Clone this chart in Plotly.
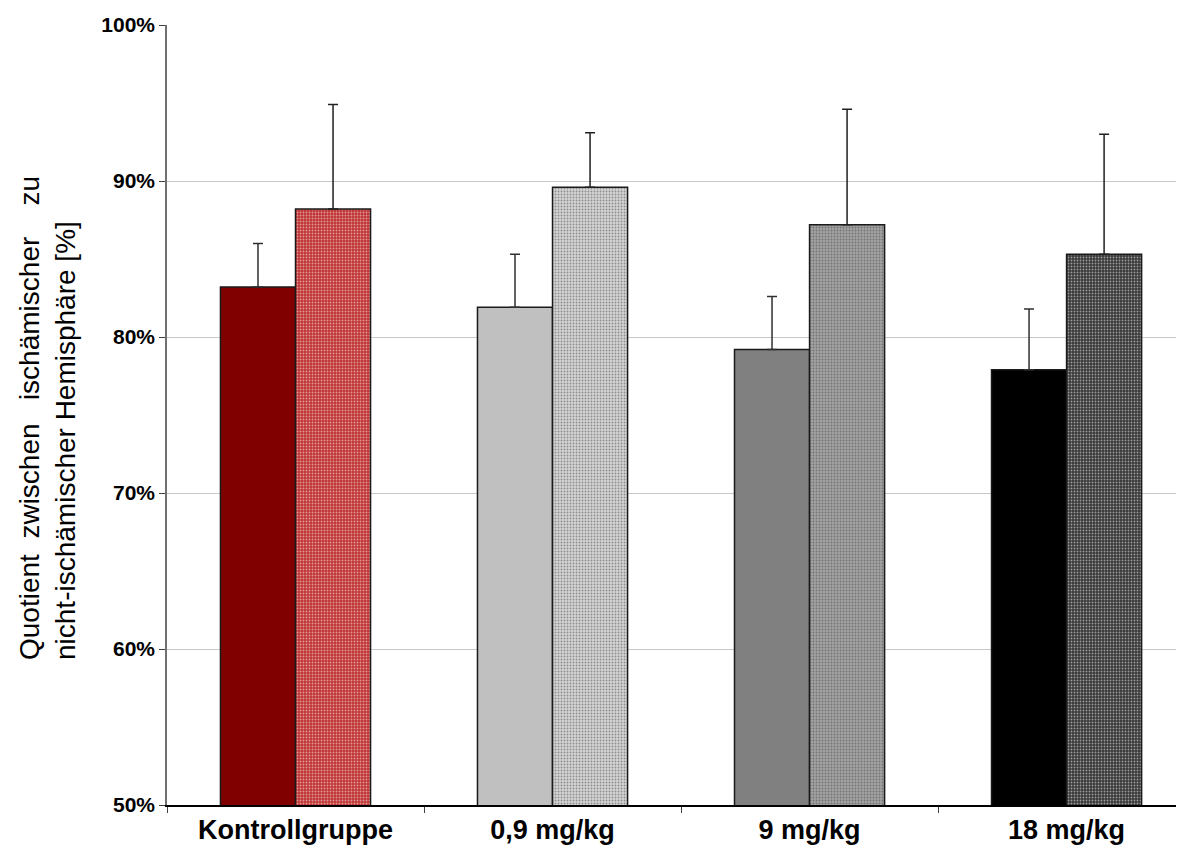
import plotly.graph_objects as go

categories = ["Kontrollgruppe", "0,9 mg/kg", "9 mg/kg", "18 mg/kg"]
series_a_values = [83.2, 81.9, 79.2, 77.9]
series_a_errors = [2.8, 3.4, 3.4, 3.9]
series_b_values = [88.2, 89.6, 87.2, 85.3]
series_b_errors = [6.7, 3.5, 7.4, 7.7]
y_ticks = [50, 60, 70, 80, 90, 100]
y_tick_labels = ["50%", "60%", "70%", "80%", "90%", "100%"]

color_a = ["#800000", "#c0c0c0", "#808080", "#000000"]
base_b = ["#c03434", "#d4d4d4", "#a2a2a2", "#383838"]
dots_b = ["#f4c0c0", "#f6f6f6", "#e8e8e8", "#c4c4c4"]

NB = "\u00a0"
title_text = ("Quotient" + NB * 2 + "zwischen" + NB * 3 + "ischämischer" + NB * 4 + "zu"
              + "<br>nicht-ischämischer" + NB + "Hemisphäre" + NB + "[%]")

fig = go.Figure()
fig.add_trace(go.Bar(
    x=categories, y=series_a_values,
    marker=dict(color=color_a, line=dict(color="#1a1a1a", width=1.5)),
    error_y=dict(type="data", array=series_a_errors, arrayminus=[0]*4, symmetric=False,
                 color="#303030", thickness=1.5, width=5),
    showlegend=False,
))
fig.add_trace(go.Bar(
    x=categories, y=series_b_values,
    marker=dict(color=base_b, line=dict(color="#1a1a1a", width=1.5),
                pattern=dict(shape=".", fgcolor=dots_b, size=3, solidity=0.3,
                             fillmode="overlay")),
    error_y=dict(type="data", array=series_b_errors, arrayminus=[0]*4, symmetric=False,
                 color="#202020", thickness=1.5, width=5),
    showlegend=False,
))

fig.update_layout(
    width=1184, height=848,
    margin=dict(l=159, r=0, t=17, b=51),
    paper_bgcolor="white", plot_bgcolor="white",
    barmode="group", bargap=0.416, bargroupgap=0,
    font=dict(family="Liberation Sans, Arial, sans-serif", color="black"),
    xaxis=dict(
        type="category", range=[-0.5, 3.488],
        showline=True, linecolor="black", linewidth=1.5,
        ticks="outside", tickson="boundaries", ticklen=6, tickcolor="#404040",
        tickfont=dict(size=27, family="Liberation Sans, Arial, sans-serif", weight="bold"),
        showgrid=False,
    ),
    yaxis=dict(
        range=[50, 100], tickvals=y_ticks, ticktext=y_tick_labels,
        showline=True, linecolor="#707070", linewidth=1.5,
        ticks="outside", ticklen=6, tickcolor="#404040",
        tickfont=dict(size=21, family="Liberation Sans, Arial, sans-serif", weight="bold"),
        showgrid=True, gridcolor="#c8c8c8", gridwidth=1,
        zeroline=False,
    ),
    annotations=[dict(
        text=title_text,
        xref="paper", yref="paper", x=0, y=0.5, xshift=-120, yshift=-3,
        xanchor="center", yanchor="middle", align="left",
        textangle=-90, showarrow=False,
        font=dict(size=28, family="Liberation Sans, Arial, sans-serif", color="black"),
    )],
)

fig.write_html("out.html")
